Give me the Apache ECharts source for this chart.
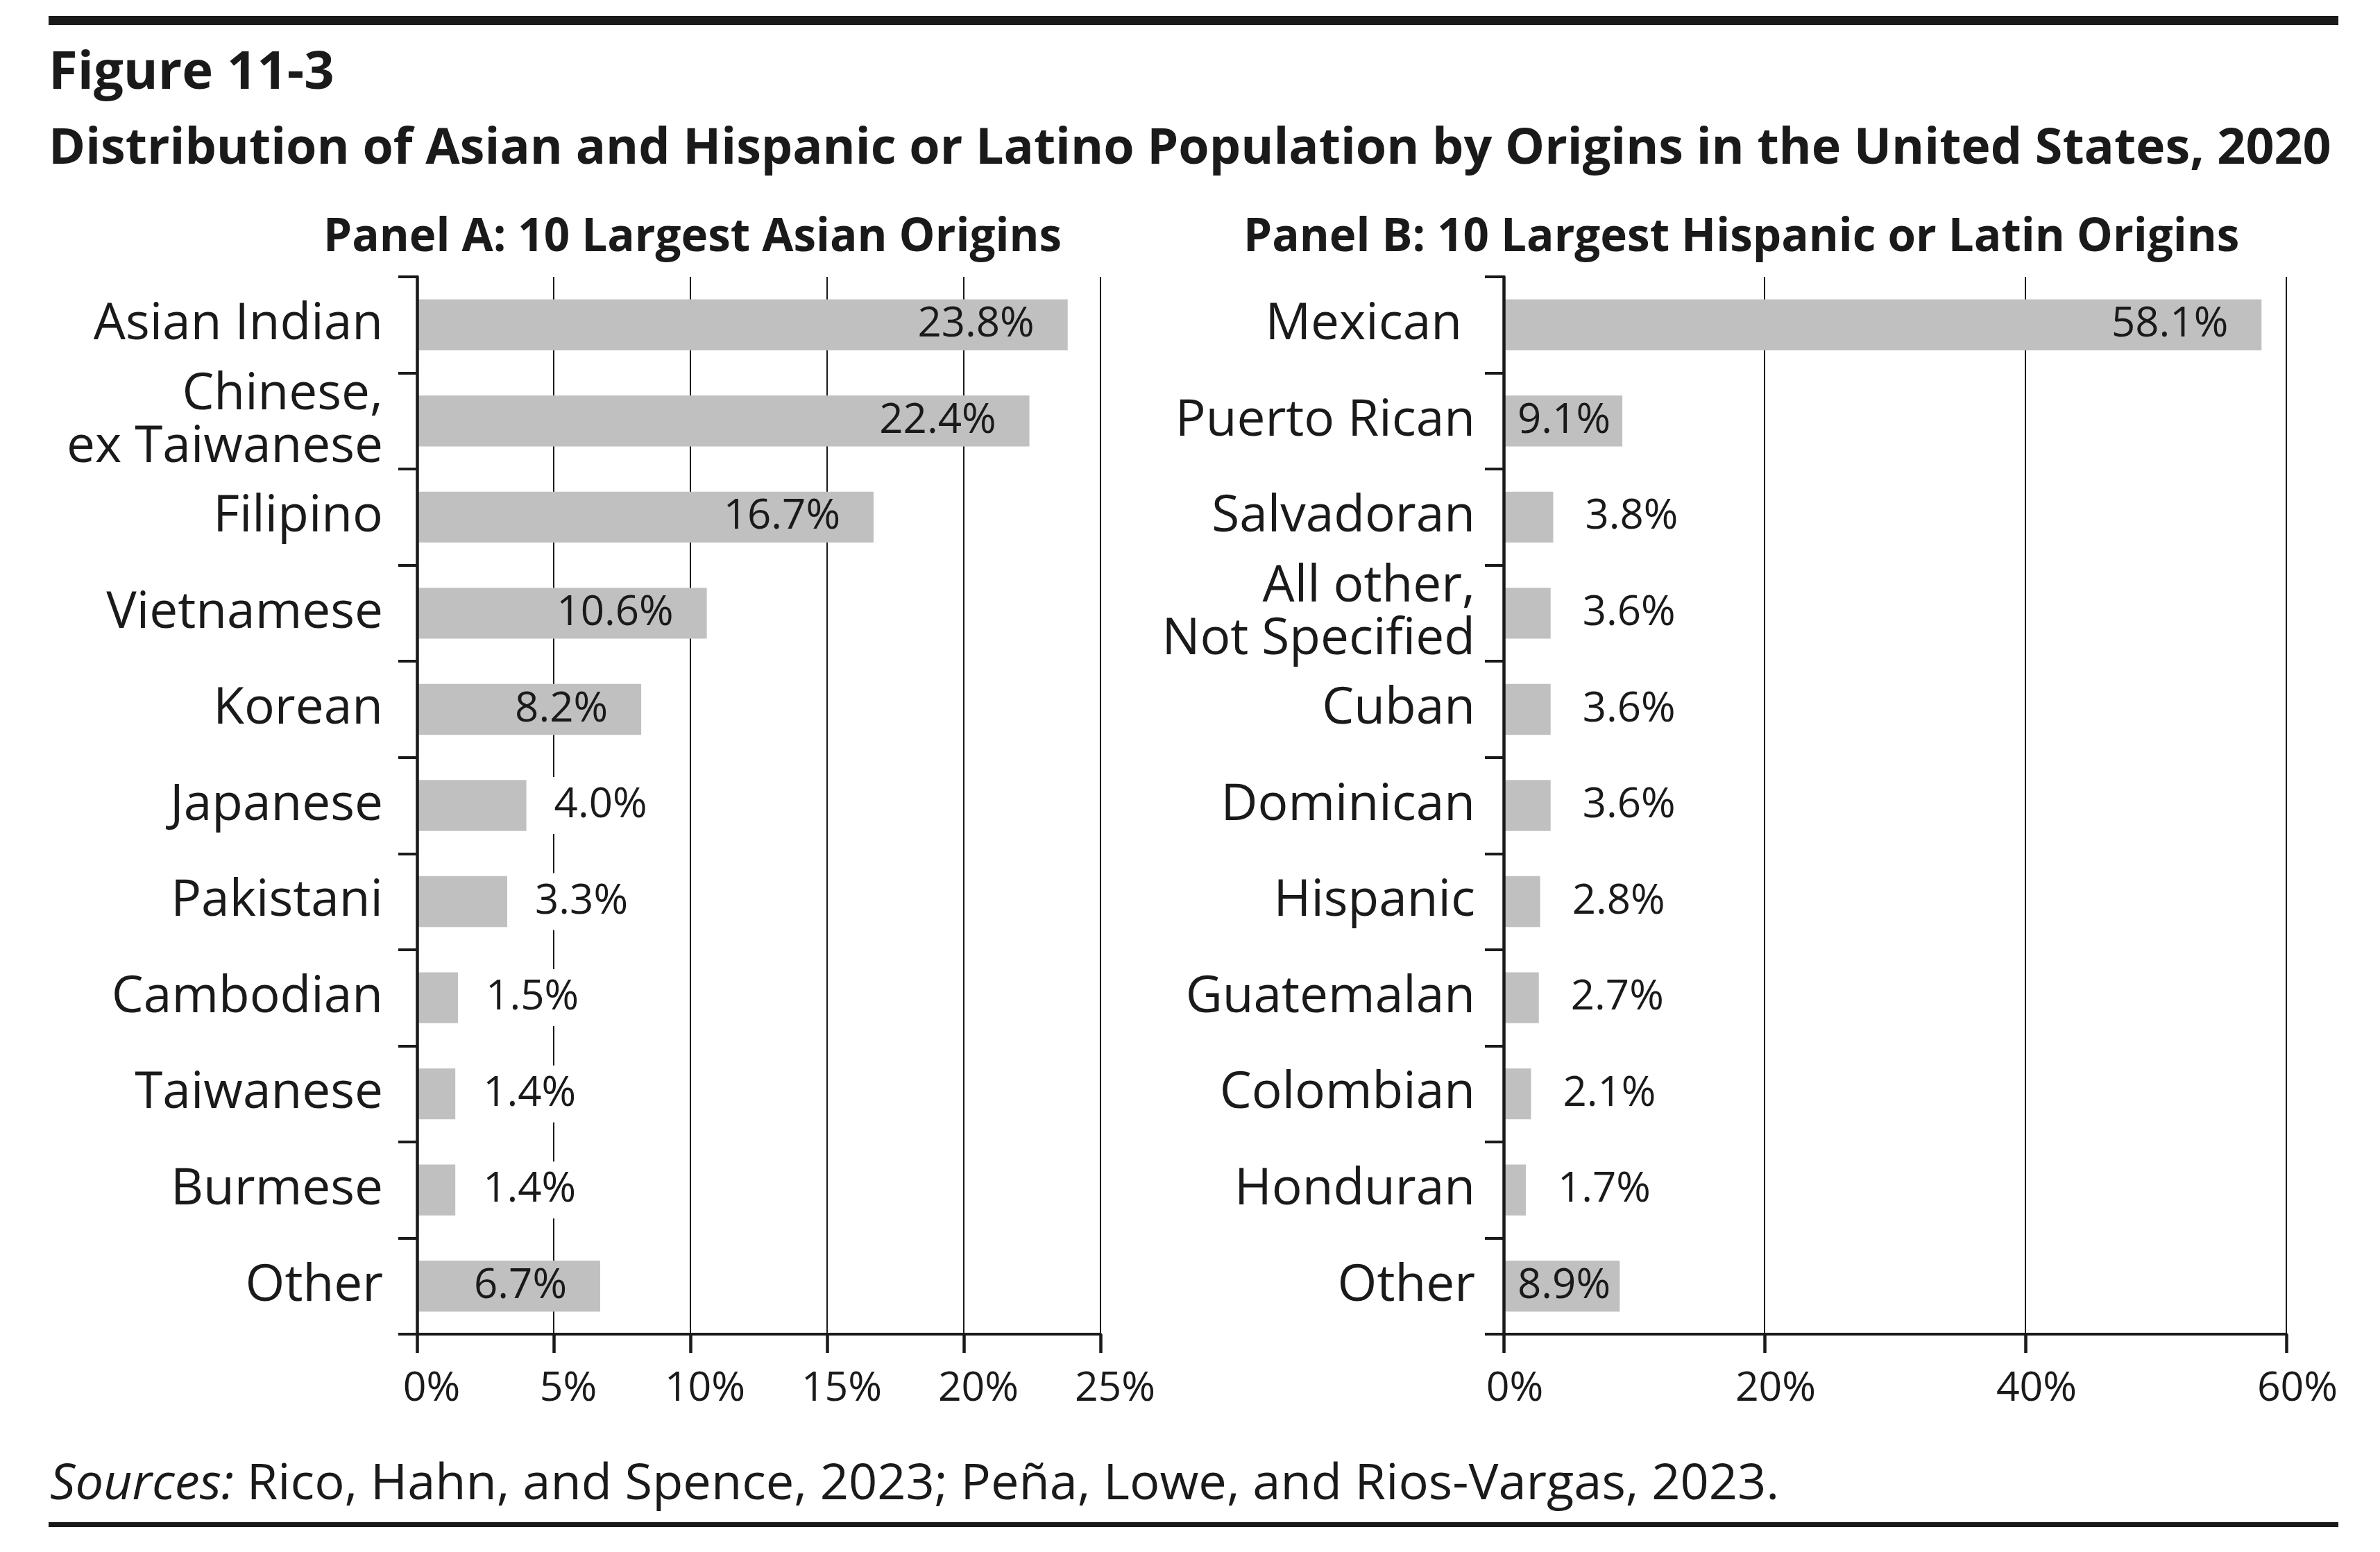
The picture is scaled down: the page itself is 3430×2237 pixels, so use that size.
<!DOCTYPE html>
<html lang="en">
<head>
    <meta charset="UTF-8">
    <title>Figure 11-3</title>
    <script src="https://cdn.jsdelivr.net/npm/echarts@6/dist/echarts.min.js"></script>
    <style>
        html, body { margin: 0; padding: 0; background: #fff; }
        #chart { width: 3430px; height: 2237px; }
    </style>
</head>
<body>
    <div id="chart"></div>
    <script>
        // Panel A: 10 largest Asian origins (percent)
        const asianCategories = ['Asian Indian', 'Chinese,\nex Taiwanese', 'Filipino', 'Vietnamese', 'Korean',
            'Japanese', 'Pakistani', 'Cambodian', 'Taiwanese', 'Burmese', 'Other'];
        const asianValues = [23.8, 22.4, 16.7, 10.6, 8.2, 4.0, 3.3, 1.5, 1.4, 1.4, 6.7];

        // Panel B: 10 largest Hispanic or Latin origins (percent)
        const hispanicCategories = ['Mexican ', 'Puerto Rican', 'Salvadoran', 'All other,\nNot Specified', 'Cuban',
            'Dominican', 'Hispanic', 'Guatemalan', 'Colombian', 'Honduran', 'Other'];
        const hispanicValues = [58.1, 9.1, 3.8, 3.6, 3.6, 3.6, 2.8, 2.7, 2.1, 1.7, 8.9];

        // axis ranges
        const asianAxis = { min: 0, max: 25, interval: 5 };
        const hispanicAxis = { min: 0, max: 60, interval: 20 };

        const FONT = "'Open Sans', sans-serif";
        const INK = '#1a1a1a';
        const BAR = '#c0c0c0';

        const pct = (v) => v.toFixed(1) + '%';

        // where each value label sits: inside the bar when it fits, otherwise just past its end
        function labelFor(v, insideRightFrom, insideLeftFrom, outsideGap) {
            if (v >= insideRightFrom) {
                return { position: 'insideRight', distance: 48 };
            }
            if (v >= insideLeftFrom) {
                return { position: 'insideLeft', distance: 20 };
            }
            return {
                position: 'right', distance: outsideGap,
                backgroundColor: '#fff', padding: [11, 8]
            };
        }

        const asianData = asianValues.map(v => ({ value: v, label: labelFor(v, 6, 6, 32) }));
        const hispanicData = hispanicValues.map(v => ({ value: v, label: labelFor(v, 20, 8, 38) }));

        const grids = [
            { left: 601, top: 399, width: 985, height: 1524 },
            { left: 2167, top: 399, width: 1128, height: 1524 }
        ];

        const valueAxis = (gridIndex, range, pad) => ({
            type: 'value',
            gridIndex,
            min: range.min,
            max: range.max,
            interval: range.interval,
            axisLine: { show: true, lineStyle: { color: INK, width: 4 } },
            axisTick: { show: true, length: 27, lineStyle: { color: INK, width: 4.5 } },
            axisLabel: {
                formatter: '{value}%',
                fontFamily: FONT, fontSize: 59, color: INK,
                margin: 50, padding: [0, 0, 0, pad]
            },
            splitLine: { show: true, lineStyle: { color: INK, width: 2 } }
        });

        const categoryAxis = (gridIndex, data, margin) => ({
            type: 'category',
            gridIndex,
            data,
            inverse: true,
            z: 5,
            axisLine: { show: true, lineStyle: { color: INK, width: 4.5 } },
            axisTick: { show: true, length: 27, lineStyle: { color: INK, width: 4 } },
            axisLabel: {
                fontFamily: FONT, fontSize: 73, color: INK,
                margin, lineHeight: 76, align: 'right'
            },
            splitLine: { show: false }
        });

        const barSeries = (axisIndex, data) => ({
            type: 'bar',
            xAxisIndex: axisIndex,
            yAxisIndex: axisIndex,
            data,
            barWidth: '53%',
            itemStyle: { color: BAR },
            label: {
                show: true,
                formatter: (p) => pct(p.value),
                fontFamily: FONT, fontSize: 60, color: INK
            },
            emphasis: { disabled: true },
            animation: false
        });

        const text = (x, y, str, size, weight, extra) => ({
            type: 'text', x, y, z: 10,
            style: Object.assign({
                text: str, fontFamily: FONT, fontSize: size, fontWeight: weight,
                fill: INK, align: 'left', verticalAlign: 'middle'
            }, extra || {})
        });

        const chart = echarts.init(document.getElementById('chart'), null, { renderer: 'canvas' });
        chart.setOption({
            backgroundColor: '#fff',
            animation: false,
            grid: grids,
            xAxis: [valueAxis(0, asianAxis, 42), valueAxis(1, hispanicAxis, 32)],
            yAxis: [categoryAxis(0, asianCategories, 49), categoryAxis(1, hispanicCategories, 41)],
            series: [barSeries(0, asianData), barSeries(1, hispanicData)],
            graphic: [
                { type: 'rect', shape: { x: 70, y: 23, width: 3300, height: 13 }, style: { fill: INK } },
                { type: 'rect', shape: { x: 70, y: 2194, width: 3300, height: 7 }, style: { fill: INK } },
                text(70, 106, 'Figure 11-3', 76, 'bold'),
                text(70, 216, 'Distribution of Asian and Hispanic or Latino Population by Origins in the United States, 2020', 71.8, 'bold'),
                text(466, 343, 'Panel A: 10 Largest Asian Origins', 65.5, 'bold'),
                text(1792, 343, 'Panel B: 10 Largest Hispanic or Latin Origins', 65.5, 'bold'),
                text(72, 2140, '{i|Sources:} Rico, Hahn, and Spence, 2023; Peña, Lowe, and Rios-Vargas, 2023.', 72.2, 'normal', {
                    rich: { i: { fontStyle: 'italic', fontFamily: FONT, fontSize: 72.2, fill: INK } }
                })
            ]
        });
    </script>
</body>
</html>
